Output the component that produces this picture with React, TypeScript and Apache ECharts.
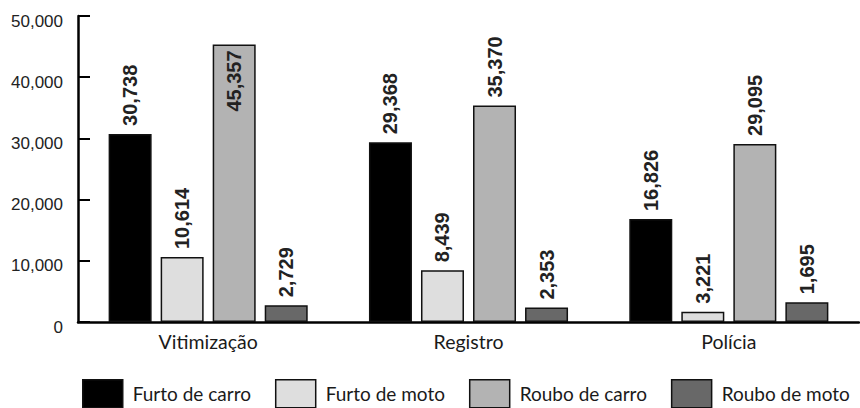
import React, { useEffect, useRef } from "react";
import * as echarts from "echarts";

const categories = ["Vitimização", "Registro", "Polícia"];
const seriesNames = ["Furto de carro", "Furto de moto", "Roubo de carro", "Roubo de moto"];
// bar heights as drawn in the picture
const furtoCarro = [30738, 29368, 16826];
const furtoMoto = [10614, 8439, 1695];
const rouboCarro = [45357, 35370, 29095];
const rouboMoto = [2729, 2353, 3221];
// printed value labels
const furtoCarroLabels = ["30,738", "29,368", "16,826"];
const furtoMotoLabels = ["10,614", "8,439", "3,221"];
const rouboCarroLabels = ["45,357", "35,370", "29,095"];
const rouboMotoLabels = ["2,729", "2,353", "1,695"];
const colors = ["#000000", "#dedede", "#b3b3b3", "#686868"];

export default function App() {
  const ref = useRef<HTMLDivElement>(null);
  useEffect(() => {
    if (!ref.current) return;
    const chart = echarts.init(ref.current, null, { renderer: "svg" });
    const values = [furtoCarro, furtoMoto, rouboCarro, rouboMoto];
    const labels = [furtoCarroLabels, furtoMotoLabels, rouboCarroLabels, rouboMotoLabels];
    chart.setOption({
      animation: false,
      grid: { left: 78, right: 1, top: 16, bottom: 86, containLabel: false },
      legend: {
        left: 82,
        top: 379,
        padding: 0,
        width: 778,
        itemWidth: 40,
        itemHeight: 28,
        itemGap: 24,
        icon: "rect",
        itemStyle: { borderColor: "#111", borderWidth: 1.5 },
        textStyle: {
          fontFamily: "Lato",
          fontSize: 19,
          color: "#1a1a1a",
          padding: [0, 0, 0, 5],
        },
        data: seriesNames,
      },
      xAxis: {
        type: "category",
        data: categories,
        axisLine: { lineStyle: { color: "#000", width: 2.5 } },
        axisTick: { inside: true, length: 7, lineStyle: { color: "#000", width: 1.5 } },
        axisLabel: { fontFamily: "Lato", fontSize: 19.5, color: "#1a1a1a", margin: 9 },
      },
      yAxis: {
        type: "value",
        min: 0,
        max: 50000,
        interval: 10000,
        splitLine: { show: false },
        axisLine: { show: true, lineStyle: { color: "#000", width: 2.5 } },
        axisTick: { show: true, inside: true, length: 12, lineStyle: { color: "#000", width: 2 } },
        axisLabel: {
          fontFamily: "Liberation Sans, Arial, sans-serif",
          fontSize: 17,
          color: "#222",
          margin: 15,
          verticalAlign: "top",
          lineHeight: 10,
          formatter: (v: number) => v.toLocaleString("en-US"),
        },
      },
      series: seriesNames.map((name, i) => ({
        name,
        type: "bar",
        data: values[i].map((v) =>
          v > 42000
            ? { value: v, label: { position: "insideTop", align: "right", distance: 6 } }
            : v
        ),
        barWidth: 43,
        barGap: "21%",
        itemStyle: { color: colors[i], borderColor: "#111", borderWidth: 1.5 },
        label: {
          show: true,
          position: "top",
          rotate: 90,
          align: "left",
          verticalAlign: "middle",
          distance: 8,
          fontFamily: "Liberation Sans, Arial, sans-serif",
          fontSize: 20,
          fontWeight: "bold",
          color: "#222",
          formatter: (p: any) => labels[i][p.dataIndex],
        },
      })),
    });
    return () => chart.dispose();
  }, []);
  return <div ref={ref} style={{ width: 860, height: 408, position: "absolute", left: 0, top: 0 }} />;
}
